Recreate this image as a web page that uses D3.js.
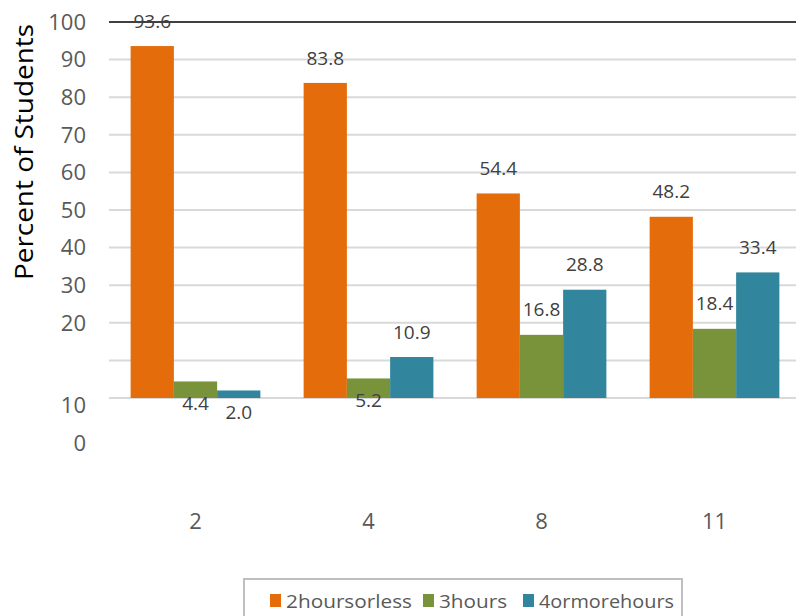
<!DOCTYPE html>
<html>
<head>
<meta charset="utf-8">
<script src="https://cdn.jsdelivr.net/npm/d3@7"></script>
<style>
  html, body { margin: 0; padding: 0; background: #fff; }
  svg { display: block; }
</style>
</head>
<body>
<svg id="chart" width="796" height="616"></svg>
<script>
// Grade levels on the x axis
const grades = ["2", "4", "8", "11"];
// Series names (legend labels)
const seriesNames = ["2hoursorless", "3hours", "4ormorehours"];
// Percent of students in each series, per grade
const twoHoursOrLess = [93.6, 83.8, 54.4, 48.2];
const threeHours = [4.4, 5.2, 16.8, 18.4];
const fourOrMoreHours = [2.0, 10.9, 28.8, 33.4];
// Y axis ticks and their labels
const yTicks = [100, 90, 80, 70, 60, 50, 40, 30, 20, 10, 0];
const yTickLabels = ["100", "90", "80", "70", "60", "50", "40", "30", "20", "10", "0"];

const seriesValues = [twoHoursOrLess, threeHours, fourOrMoreHours];
const colors = ["#E46C0A", "#79933B", "#31859C"];

const svg = d3.select("#chart");
const font = "'Open Sans', 'Noto Sans', sans-serif";

const x = d3.scaleBand().domain(grades).range([109, 801]).paddingInner(0.25).paddingOuter(0.125);
const xs = d3.scaleBand().domain(seriesNames).range([0, x.bandwidth()]).padding(0);
const y = d3.scaleLinear().domain([0, 100]).range([398, 22]);

// Horizontal gridlines; the top line is drawn darker
svg.append("g").selectAll("line")
  .data(yTicks)
  .join("line")
  .attr("x1", 109).attr("x2", 796)
  .attr("y1", d => y(d)).attr("y2", d => y(d))
  .attr("stroke", d => d === 100 ? "#404040" : "#d9d9d9")
  .attr("stroke-width", 2);

// Y tick labels; the two lowest labels sit below the baseline
svg.append("g").selectAll("text")
  .data(yTicks)
  .join("text")
  .attr("x", 86)
  .attr("y", d => y(d) + (d < 20 ? 45 : 0))
  .attr("dy", "0.35em")
  .attr("text-anchor", "end")
  .attr("font-family", font)
  .attr("font-size", 22)
  .attr("fill", "#595959")
  .text((d, i) => yTickLabels[i]);

// Y axis title
svg.append("text")
  .attr("transform", "translate(24,152) rotate(-90)")
  .attr("text-anchor", "middle")
  .attr("dy", "0.35em")
  .attr("font-family", font)
  .attr("font-size", 26)
  .attr("fill", "#000")
  .attr("textLength", 256)
  .attr("lengthAdjust", "spacingAndGlyphs")
  .text("Percent of Students");

// Bars
const rows = grades.map((g, gi) => seriesNames.map((s, si) => ({ g, s, si, v: seriesValues[si][gi] })));
const groups = svg.append("g").selectAll("g")
  .data(rows)
  .join("g")
  .attr("transform", d => `translate(${x(d[0].g)},0)`);

groups.selectAll("rect")
  .data(d => d)
  .join("rect")
  .attr("x", d => xs(d.s))
  .attr("width", xs.bandwidth())
  .attr("y", d => y(d.v))
  .attr("height", d => y(0) - y(d.v))
  .attr("fill", d => colors[d.si]);

// Value labels: above the bar, or below the top of very short bars
groups.selectAll("text")
  .data(d => d)
  .join("text")
  .attr("x", d => xs(d.s) + xs.bandwidth() / 2)
  .attr("y", d => d.v < 6 ? y(d.v) + 22 : y(d.v) - 25)
  .attr("dy", "0.35em")
  .attr("text-anchor", "middle")
  .attr("font-family", font)
  .attr("font-size", 19)
  .attr("fill", "#404040")
  .text(d => d.v.toFixed(1));

// X category labels
svg.append("g").selectAll("text")
  .data(grades)
  .join("text")
  .attr("x", d => x(d) + x.bandwidth() / 2)
  .attr("y", 521)
  .attr("dy", "0.35em")
  .attr("text-anchor", "middle")
  .attr("font-family", font)
  .attr("font-size", 22)
  .attr("fill", "#595959")
  .text(d => d);

// Legend
const legend = svg.append("g");
legend.append("rect")
  .attr("x", 244).attr("y", 579)
  .attr("width", 438).attr("height", 60)
  .attr("fill", "#fff")
  .attr("stroke", "#bfbfbf")
  .attr("stroke-width", 2);

const legendX = [270, 423, 523];
const legendW = [126, 68, 135];
seriesNames.forEach((name, i) => {
  legend.append("rect")
    .attr("x", legendX[i]).attr("y", 594)
    .attr("width", 11).attr("height", 13)
    .attr("fill", colors[i]);
  legend.append("text")
    .attr("x", legendX[i] + 16).attr("y", 601)
    .attr("dy", "0.35em")
    .attr("font-family", font)
    .attr("font-size", 19)
    .attr("fill", "#595959")
    .attr("textLength", legendW[i])
    .attr("lengthAdjust", "spacingAndGlyphs")
    .text(name);
});
</script>
</body>
</html>
